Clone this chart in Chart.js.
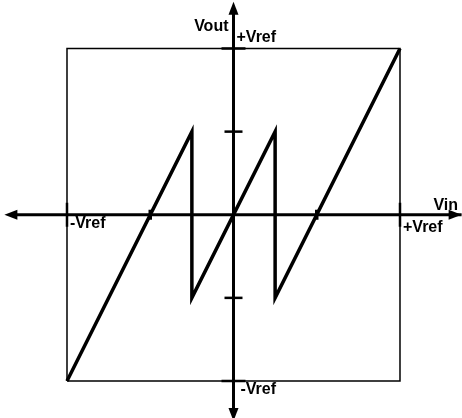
<!DOCTYPE html>
<html>
<head>
<meta charset="utf-8">
<style>
  html, body { margin: 0; padding: 0; background: #fff; }
  #wrap { width: 462px; height: 418px; }
</style>
<script src="https://cdn.jsdelivr.net/npm/chart.js@4/dist/chart.umd.min.js"></script>
</head>
<body>
<div id="wrap"><canvas id="c" width="462" height="418"></canvas></div>
<script>
// Transfer characteristic: input voltage vs output voltage (normalised to Vref)
const vin  = [-1, -0.25, -0.25, 0.25, 0.25, 1];
const vout = [-1,  0.5,  -0.5,  0.5, -0.5, 1];

// Full-scale frame (±Vref on both axes)
const frameX = [-1, 1, 1, -1, -1];
const frameY = [-1, -1, 1, 1, -1];

// Axis extents (arrows run past the frame)
const xAxisEnds = [-1.34, 1.37];
const yAxisEnds = [1.245, -1.205];

// Tick positions on both axes
const xTicks = [-1, -0.5, 0.5, 1];
const yTicks = [-1, -0.5, 0.5, 1];

// Text labels
const xTitle = 'Vin';
const yTitle = 'Vout';
const posRef = '+Vref';
const negRef = '-Vref';

const pts = (xs, ys) => xs.map((x, i) => ({ x: x, y: ys[i] }));

const FONT = 'bold 16px "Liberation Sans", Arial, sans-serif';

const axesPlugin = {
  id: 'axesArrows',
  afterDatasetsDraw(chart) {
    const ctx = chart.ctx;
    const xs = chart.scales.x, ys = chart.scales.y;
    const px = v => xs.getPixelForValue(v);
    const py = v => ys.getPixelForValue(v);
    const x0 = px(0), y0 = py(0);
    ctx.save();
    ctx.fillStyle = '#000';
    ctx.strokeStyle = '#000';

    // arrowheads
    const head = (tx, ty, dx, dy) => {
      const L = 13, W = 5;
      const bx = tx - dx * L, by = ty - dy * L;
      ctx.beginPath();
      ctx.moveTo(tx, ty);
      ctx.lineTo(bx - dy * W, by + dx * W);
      ctx.lineTo(bx + dy * W, by - dx * W);
      ctx.closePath();
      ctx.fill();
    };
    head(px(xAxisEnds[0]) - 6, y0, -1, 0);
    head(px(xAxisEnds[1]), y0, 1, 0);
    head(x0, py(yAxisEnds[0]) - 6, 0, -1);
    head(x0, py(yAxisEnds[1]) + 6, 0, 1);

    // ticks on the vertical axis
    ctx.lineWidth = 2.5;
    yTicks.forEach(v => {
      const half = Math.abs(v) === 1 ? 12 : 9;
      ctx.beginPath();
      ctx.moveTo(x0 - half, py(v));
      ctx.lineTo(x0 + half, py(v));
      ctx.stroke();
    });
    // ticks on the horizontal axis
    xTicks.forEach(v => {
      const up = Math.abs(v) === 1 ? 12 : 5;
      const dn = Math.abs(v) === 1 ? 12 : 5;
      ctx.lineWidth = Math.abs(v) === 1 ? 2.5 : 3.5;
      ctx.beginPath();
      ctx.moveTo(px(v), y0 - up);
      ctx.lineTo(px(v), y0 + dn);
      ctx.stroke();
    });

    // labels
    ctx.font = FONT;
    ctx.textBaseline = 'alphabetic';
    ctx.textAlign = 'right';
    ctx.fillText(yTitle, x0 - 5, 31);
    ctx.textAlign = 'left';
    ctx.fillText(posRef, x0 + 3, py(1) - 6);
    ctx.fillText(negRef, x0 + 7, py(-1) + 13);
    ctx.textAlign = 'right';
    ctx.fillText(xTitle, 458, y0 - 5);
    ctx.textAlign = 'left';
    ctx.fillText(posRef, px(1) + 3, y0 + 17);
    ctx.fillText(negRef, px(-1) + 3, y0 + 13);
    ctx.restore();
  }
};

new Chart(document.getElementById('c'), {
  type: 'scatter',
  data: {
    datasets: [
      { data: pts(frameX, frameY), showLine: true, borderColor: '#000', borderWidth: 1.5, pointRadius: 0, tension: 0 },
      { data: pts(xAxisEnds, [0, 0]), showLine: true, borderColor: '#000', borderWidth: 3, pointRadius: 0 },
      { data: pts([0, 0], yAxisEnds), showLine: true, borderColor: '#000', borderWidth: 3, pointRadius: 0 },
      { data: pts(vin, vout), showLine: true, borderColor: '#000', borderWidth: 3.5, pointRadius: 0, tension: 0, borderJoinStyle: 'miter' }
    ]
  },
  options: {
    responsive: false,
    animation: false,
    layout: { padding: 0 },
    plugins: { legend: { display: false }, tooltip: { enabled: false } },
    scales: {
      x: { type: 'linear', display: false, min: -1.4024, max: 1.3724 },
      y: { type: 'linear', display: false, min: -1.2226, max: 1.2917 }
    },
    elements: { line: { borderCapStyle: 'butt' } }
  },
  plugins: [axesPlugin]
});
</script>
</body>
</html>
